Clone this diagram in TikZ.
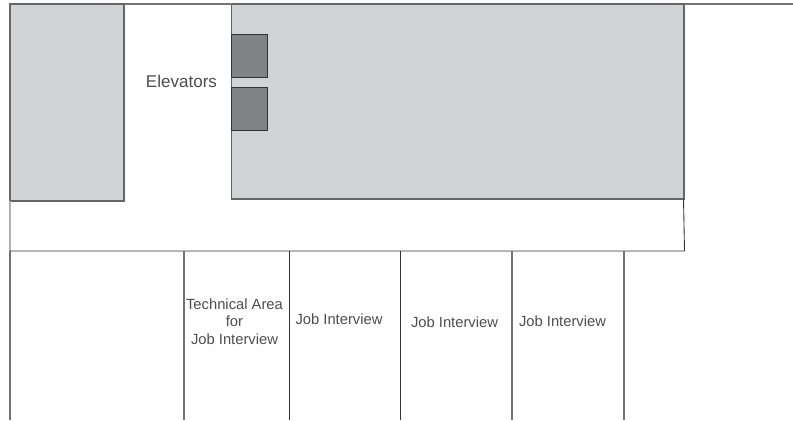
\documentclass[tikz,border=0pt]{standalone}
\usepackage{fontspec}
\setmainfont{Liberation Sans}
\definecolor{roomgray}{HTML}{D1D3D4}
\definecolor{liftgray}{HTML}{808285}
\definecolor{inkgray}{HTML}{4D4D4F}
\tikzset{
  wall/.style={line width=0.5pt,draw=black!80},
  softwall/.style={line width=0.6pt,draw=black!55},
  block/.style={line width=0.6pt,draw=black!60,fill=roomgray},
  lift/.style={line width=0.5pt,draw=black!80,fill=liftgray},
  biglabel/.style={text=inkgray,font=\fontsize{9.7}{11}\selectfont},
  roomlabel/.style={text=inkgray,font=\fontsize{8.4}{10}\selectfont,align=center,inner sep=0pt},
}
\begin{document}
\begin{tikzpicture}[x=0.02cm,y=-0.02cm]
\useasboundingbox (0,0) rectangle (793,420);

\draw[block] (10,4) rectangle (124,201);
\draw[block] (231.5,4) rectangle (684,199);

\draw[lift] (231.5,34) rectangle (267.5,77.5);
\draw[lift] (231.5,87) rectangle (267.5,130);

\draw[softwall] (124,4) -- (231.5,4);
\draw[softwall] (684,4) -- (793,4);

\draw[line width=0.6pt,draw=black!30] (10,201) -- (10,251);
\draw[softwall] (10,251) -- (10,420);
\draw[wall] (10,251) -- (684.5,251) -- (683.5,199);

\draw[softwall] (184,251) -- (184,420);
\draw[wall] (289.5,251) -- (289.5,420);
\draw[wall] (400,251) -- (400,420);
\draw[softwall] (512,251) -- (512,420);
\draw[softwall] (624,251) -- (624,420);

\node[biglabel] (elevators) at (181.5,81.5) {Elevators};
\node[roomlabel] (techarea) at (234.5,321.5) {Technical Area\\for\\Job Interview};
\node[roomlabel] (jobone) at (339,319) {Job Interview};
\node[roomlabel] (jobtwo) at (454.5,322) {Job Interview};
\node[roomlabel] (jobthree) at (562.5,321) {Job Interview};

\end{tikzpicture}
\end{document}
